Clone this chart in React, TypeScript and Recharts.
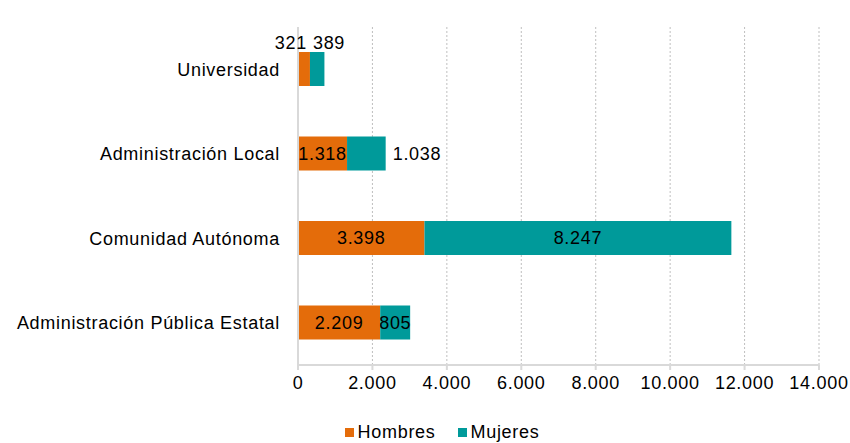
import { Bar, BarChart, CartesianGrid, LabelList, XAxis, YAxis } from 'recharts'

const categories = [
  'Universidad',
  'Administración Local',
  'Comunidad Autónoma',
  'Administración Pública Estatal',
]
const hombres = [321, 1318, 3398, 2209]
const mujeres = [389, 1038, 8247, 805]
const xTicks = [0, 2000, 4000, 6000, 8000, 10000, 12000, 14000]

// where each value label sits, as in the original
const hombresLabelPos = ['aboveEnd', 'center', 'center', 'center']
const mujeresLabelPos = ['aboveStart', 'right', 'center', 'insideStart']

const COLORS = { hombres: '#E46C0A', mujeres: '#009A9A', axis: '#D9D9D9', grid: '#BFBFBF' }
const FONT = '"Liberation Sans", Arial, sans-serif'
const FS = 18
const LS = 0.7

const fmt = (v: number) => String(v).replace(/\B(?=(\d{3})+(?!\d))/g, '.')

const data = categories.map((name, i) => ({ name, hombres: hombres[i], mujeres: mujeres[i] }))

function makeLabel(positions: string[]) {
  return (props: any) => {
    const { x, y, width, height, value, index } = props
    const pos = positions[index]
    let tx = x + width / 2
    let ty = y + height / 2
    let anchor: 'start' | 'middle' | 'end' = 'middle'
    if (pos === 'aboveEnd') {
      tx = x + width - 3
      ty = y - 9
      anchor = 'end'
    } else if (pos === 'aboveStart') {
      tx = x + 3
      ty = y - 9
      anchor = 'start'
    } else if (pos === 'right') {
      tx = x + width + 7
      anchor = 'start'
    } else if (pos === 'insideStart') {
      tx = x - 1
      anchor = 'start'
    }
    return (
      <text
        x={tx}
        y={ty}
        textAnchor={anchor}
        dominantBaseline="central"
        fontSize={FS}
        letterSpacing={LS}
        fontFamily={FONT}
        fill="#000"
      >
        {fmt(value)}
      </text>
    )
  }
}

export default function App() {
  const tickStyle = { fontSize: FS, fill: '#000', fontFamily: FONT, letterSpacing: LS }
  return (
    <div style={{ position: 'absolute', left: 0, top: 0, width: 850, height: 443, background: '#fff' }}>
      <BarChart
        width={850}
        height={443}
        data={data}
        layout="vertical"
        margin={{ top: 27, right: 31, left: 0, bottom: 48 }}
      >
        <CartesianGrid
          horizontal={false}
          stroke={COLORS.grid}
          strokeDasharray="2 2"
        />
        <XAxis
          type="number"
          domain={[0, 14000]}
          ticks={xTicks}
          interval={0}
          height={30}
          tickFormatter={fmt}
          stroke={COLORS.axis}
          strokeWidth={2}
          tickSize={5}
          tickMargin={6}
          tick={tickStyle}
        />
        <YAxis
          type="category"
          dataKey="name"
          width={298}
          stroke={COLORS.axis}
          strokeWidth={2}
          tickLine={false}
          tickSize={0}
          tickMargin={18}
          tick={tickStyle}
        />
        <Bar dataKey="hombres" stackId="a" fill={COLORS.hombres} barSize={34} isAnimationActive={false}>
          <LabelList dataKey="hombres" content={makeLabel(hombresLabelPos)} />
        </Bar>
        <Bar dataKey="mujeres" stackId="a" fill={COLORS.mujeres} barSize={34} isAnimationActive={false}>
          <LabelList dataKey="mujeres" content={makeLabel(mujeresLabelPos)} />
        </Bar>
      </BarChart>
      <div
        style={{
          position: 'absolute',
          top: 422,
          left: 0,
          width: 850,
          display: 'flex',
          justifyContent: 'center',
          gap: 22,
          fontFamily: FONT,
          fontSize: FS,
          letterSpacing: LS,
          lineHeight: '20px',
          color: '#000',
          paddingLeft: 34,
          boxSizing: 'border-box',
        }}
      >
        <span style={{ display: 'inline-flex', alignItems: 'center', gap: 4 }}>
          <span style={{ width: 9, height: 9, background: COLORS.hombres, display: 'inline-block' }} />
          Hombres
        </span>
        <span style={{ display: 'inline-flex', alignItems: 'center', gap: 4 }}>
          <span style={{ width: 9, height: 9, background: COLORS.mujeres, display: 'inline-block' }} />
          Mujeres
        </span>
      </div>
    </div>
  )
}
